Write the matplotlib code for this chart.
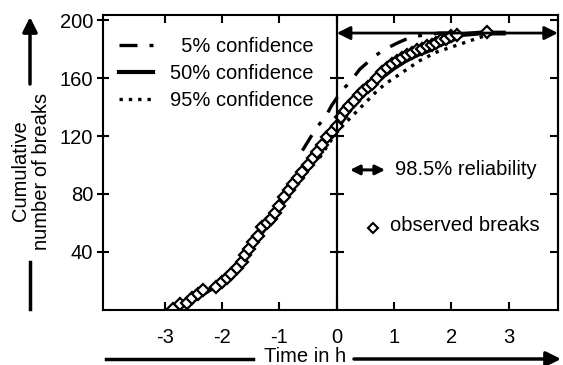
import numpy as np
import matplotlib.pyplot as plt
from matplotlib.lines import Line2D

plt.rcParams['font.family'] = ['Liberation Sans', 'DejaVu Sans']
plt.rcParams['axes.unicode_minus'] = False
FS = 14.5

# observed breaks (time in h, cumulative number)
obs_t = [-2.85, -2.74, -2.62, -2.52, -2.43, -2.34, -2.10, -2.01, -1.92, -1.84,
         -1.75, -1.66, -1.60, -1.53, -1.46, -1.38, -1.31, -1.22, -1.14, -1.07,
         -1.00, -0.92, -0.84, -0.76, -0.68, -0.60, -0.50, -0.42, -0.34, -0.26,
         -0.17, -0.09, 0.00, 0.07, 0.14, 0.22, 0.30, 0.38, 0.46, 0.54,
         0.62, 0.71, 0.79, 0.88, 0.96, 1.05, 1.14, 1.23, 1.31, 1.40,
         1.49, 1.58, 1.66, 1.74, 1.82, 1.90, 2.00, 2.10, 2.62]
obs_n = [1, 4, 5, 8, 11, 14, 16, 19, 22, 25,
         29, 33, 38, 42, 47, 51, 57, 60, 63, 67,
         72, 78, 83, 87, 91, 95, 100, 105, 109, 114,
         119, 123, 127, 133, 137, 141, 144, 148, 151, 154,
         156, 160, 164, 167, 170, 172, 174, 176, 177, 179,
         180, 182, 183, 184, 186, 187, 189, 190, 192]

# 50% confidence curve
c50_t = [-2.75, -2.5, -2.3, -2.1, -1.9, -1.7, -1.5, -1.3, -1.1, -0.9, -0.7, -0.5,
         -0.3, -0.1, 0.0, 0.2, 0.4, 0.6, 0.8, 1.0, 1.2, 1.4, 1.6, 1.8, 2.0, 2.2,
         2.5, 2.95]
c50_n = [2, 7, 12, 17, 22, 30, 42, 54, 65, 78, 90, 100,
         111, 121, 125, 137, 146, 154, 161, 167, 172, 176, 179, 183, 186, 190,
         191, 191]

# 5% confidence curve
c05_t = [-0.6, -0.35, -0.2, -0.09, 0.1, 0.23, 0.4, 0.63, 0.8, 1.05, 1.28, 1.57, 1.8, 2.2]
c05_n = [110, 126, 133, 141, 152, 157, 166, 174, 179, 184, 188, 190, 191, 191]

# 95% confidence curve
c95_t = [-0.3, -0.15, 0.0, 0.1, 0.2, 0.3, 0.4, 0.55, 0.7, 0.85, 1.0, 1.15,
         1.3, 1.45, 1.6, 1.75, 1.9, 2.05, 2.2, 2.35, 2.5, 2.65, 2.8]
c95_n = [105, 114, 123, 127, 131, 135, 139, 145, 151, 156, 160, 164,
         168, 172, 175, 178, 180, 182, 184, 186, 188, 190, 191]

reliability_n = 191
xticks = [-3, -2, -1, 0, 1, 2, 3]
yticks = [40, 80, 120, 160, 200]

fig = plt.figure(figsize=(5.63, 3.65), dpi=100)
ax = fig.add_axes([0.183, 0.1507, 0.808, 0.808])

ls_dashdot = (0, (5.4, 3.6, 1.2, 3.6))
ls_dot = (0, (1, 1.8))

ax.plot(c05_t, c05_n, color='black', lw=2.4, ls=ls_dashdot)
ax.plot(c95_t, c95_n, color='black', lw=2.4, ls=ls_dot)
ax.plot(c50_t, c50_n, color='black', lw=3.5, solid_capstyle='butt')
ax.plot(obs_t, obs_n, ls='none', marker='D', ms=6.2, mfc='white', mec='black', mew=1.6)

xmax = 3.86
ax.set_xlim(-4.08, xmax)
ax.set_ylim(0, 203.4)

# reliability arrow along the top
ax.annotate('', xy=(xmax, reliability_n), xytext=(0, reliability_n),
            arrowprops=dict(arrowstyle='<|-|>', color='black', lw=2,
                            mutation_scale=20, shrinkA=0, shrinkB=0))

# vertical line at t = 0 with crossing ticks
ax.axvline(0, color='black', lw=1.6)
ax.plot(np.zeros(len(yticks) - 1), yticks[:-1], ls='none', marker='_',
        ms=10, mew=1.5, color='black')

for s in ax.spines.values():
    s.set_linewidth(1.5)

ax.set_xticks(xticks)
ax.set_yticks(yticks)
ax.tick_params(axis='x', direction='in', top=True, length=6, width=1.5,
               labelsize=FS, pad=13)
ax.tick_params(axis='y', direction='inout', length=8, width=1.5,
               labelsize=FS, pad=3)

# inward ticks on the right edge
sec = ax.secondary_yaxis('right')
sec.set_yticks(yticks)
sec.tick_params(direction='in', length=6, width=1.5, labelright=False)
sec.spines['right'].set_linewidth(1.5)

handles = [Line2D([], [], color='black', lw=2.4, ls=ls_dashdot),
           Line2D([], [], color='black', lw=3.0),
           Line2D([], [], color='black', lw=2.4, ls=ls_dot)]
labels = ['  5% confidence', '50% confidence', '95% confidence']
ax.legend(handles, labels, loc='upper left', bbox_to_anchor=(0.035, 0.925),
          frameon=False, fontsize=FS, handlelength=1.7, handletextpad=0.85,
          labelspacing=0.4, borderpad=0, borderaxespad=0)

# reliability key
ax.annotate('', xy=(0.620, 0.475), xytext=(0.543, 0.475), xycoords='axes fraction',
            arrowprops=dict(arrowstyle='<|-|>', color='black', lw=2.2,
                            mutation_scale=14, shrinkA=0, shrinkB=0))
ax.text(0.642, 0.478, '98.5% reliability', transform=ax.transAxes,
        fontsize=FS, va='center', ha='left')

# observed breaks key
ax.plot([0.593], [0.278], transform=ax.transAxes, ls='none', marker='D',
        ms=5.5, mfc='white', mec='black', mew=1.5)
ax.text(0.631, 0.285, 'observed breaks', transform=ax.transAxes,
        fontsize=FS, va='center', ha='left')

# axis titles with arrows
fig.text(31 / 563, 1 - 171 / 365, 'Cumulative\nnumber of breaks', rotation=90,
         ha='center', va='center', fontsize=FS, linespacing=1.1)
fig.add_artist(plt.Line2D([30 / 563, 30 / 563], [1 - 262 / 365, 1 - 309 / 365],
                          color='black', lw=2.5, transform=fig.transFigure))
ax.annotate('', xy=(30 / 563, 1 - 17 / 365), xytext=(30 / 563, 1 - 84 / 365),
            xycoords='figure fraction',
            arrowprops=dict(arrowstyle='-|>', color='black', lw=2.5,
                            mutation_scale=22, shrinkA=0, shrinkB=0))

fig.text(305 / 563, 1 - 357 / 365, 'Time in h', ha='center', va='center', fontsize=FS)
fig.add_artist(plt.Line2D([106 / 563, 253 / 563], [1 - 359 / 365, 1 - 359 / 365],
                          color='black', lw=2.5, transform=fig.transFigure))
ax.annotate('', xy=(561 / 563, 1 - 359 / 365), xytext=(354 / 563, 1 - 359 / 365),
            xycoords='figure fraction',
            arrowprops=dict(arrowstyle='-|>', color='black', lw=2.5,
                            mutation_scale=22, shrinkA=0, shrinkB=0))

fig.savefig('out.png', dpi=100)
